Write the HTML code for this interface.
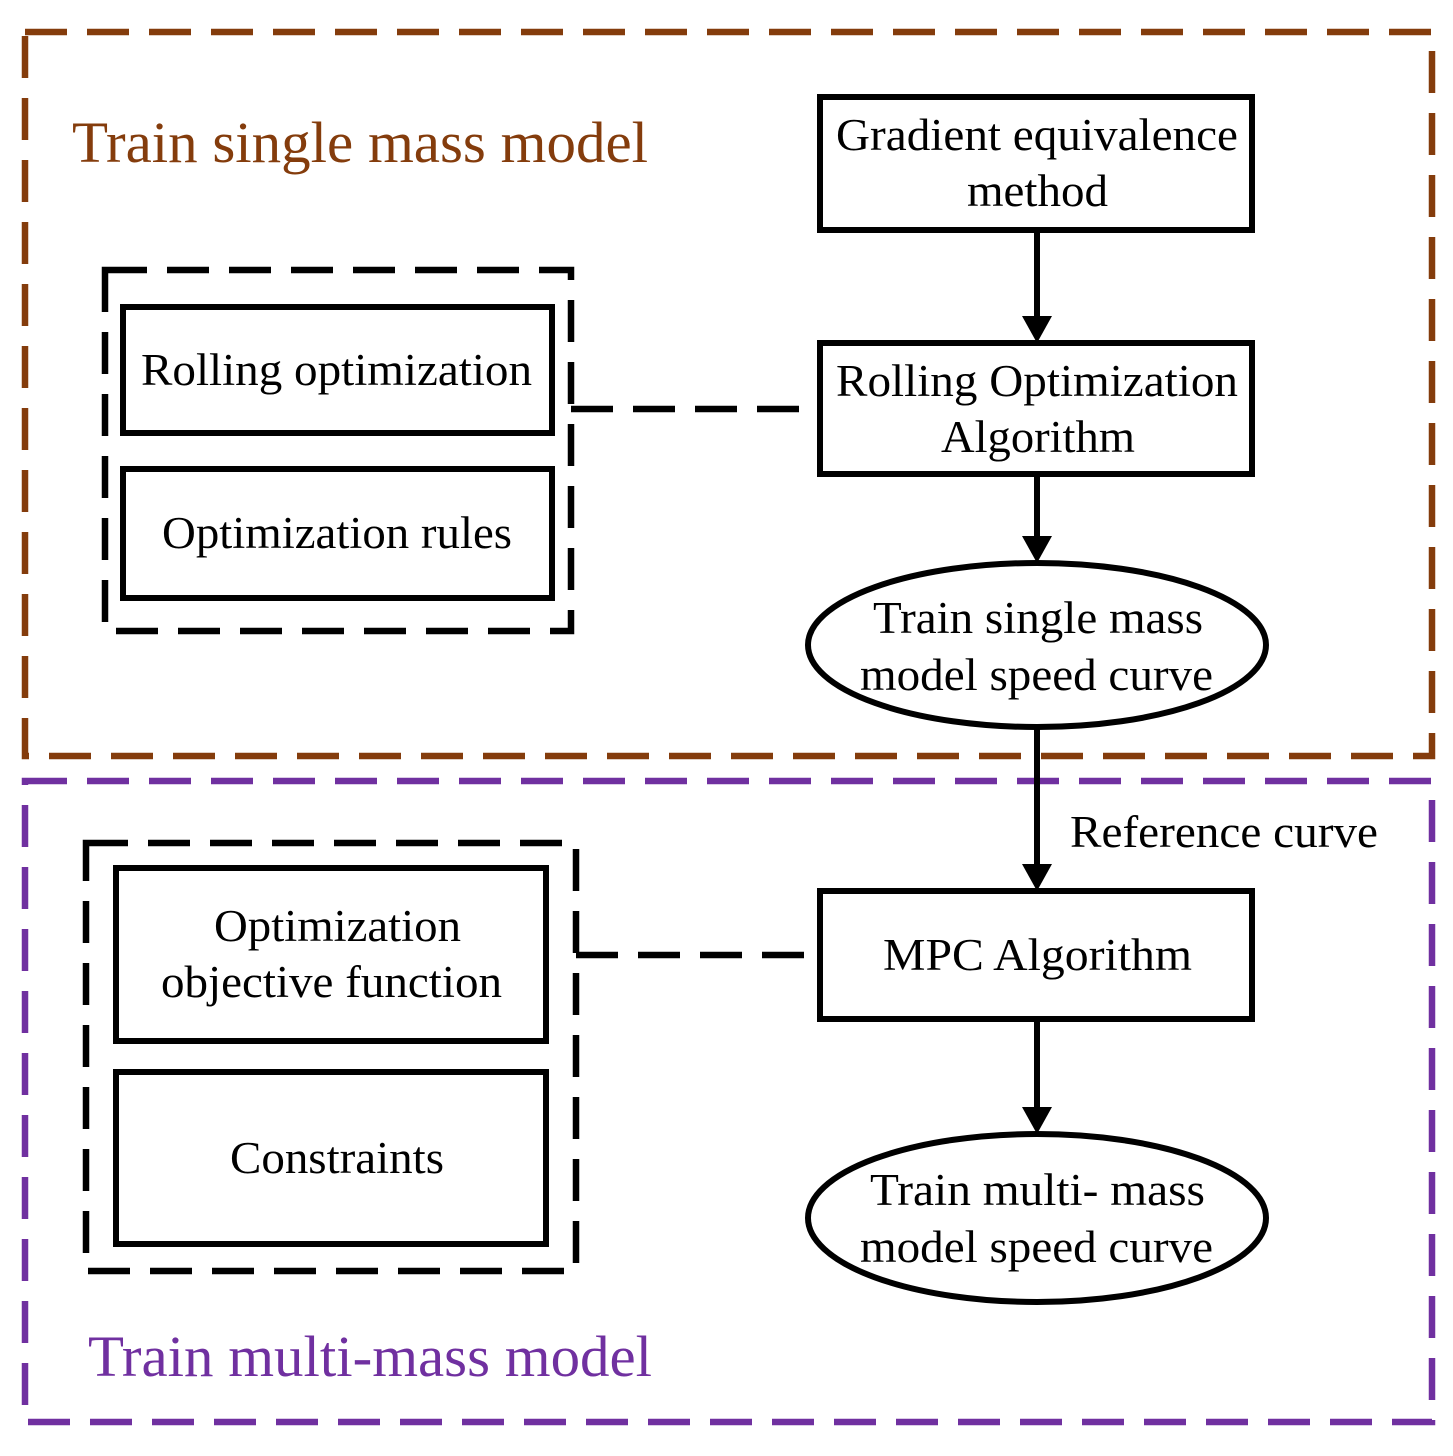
<!DOCTYPE html>
<html><head><style>html,body{margin:0;padding:0;background:#fff}svg{display:block}text{font-family:"Liberation Serif",serif}</style></head>
<body>
<svg width="1453" height="1456" viewBox="0 0 1453 1456" xmlns="http://www.w3.org/2000/svg">
<rect x="25" y="32" width="1407" height="724" fill="none" stroke="#843C0C" stroke-width="6.5" stroke-dasharray="42,20"/>
<rect x="25" y="781" width="1407" height="641" fill="none" stroke="#7030A0" stroke-width="6.5" stroke-dasharray="42,20"/>
<text x="72" y="162" font-size="58" fill="#843C0C" textLength="576" lengthAdjust="spacingAndGlyphs">Train single mass model</text>
<text x="88" y="1376" font-size="58" fill="#7030A0" textLength="564" lengthAdjust="spacingAndGlyphs">Train multi-mass model</text>
<g fill="none" stroke="#000" stroke-width="6.5" stroke-dasharray="42,20">
<rect x="105" y="270" width="466" height="361"/>
<rect x="86" y="843" width="490" height="428"/>
<line x1="571" y1="409" x2="820" y2="409"/>
<line x1="576" y1="955" x2="820" y2="955"/>
</g>
<g fill="none" stroke="#000" stroke-width="6">
<rect x="123" y="307" width="429" height="126"/>
<rect x="123" y="469" width="429" height="129"/>
<rect x="116" y="868" width="430" height="173"/>
<rect x="116" y="1072" width="430" height="172"/>
<rect x="820" y="97" width="432" height="133"/>
<rect x="820" y="343" width="432" height="131"/>
<rect x="820" y="891" width="432" height="128"/>
<ellipse cx="1037" cy="645" rx="229" ry="82"/>
<ellipse cx="1037" cy="1218" rx="229" ry="84"/>
<line x1="1037" y1="230" x2="1037" y2="318"/>
<line x1="1037" y1="474" x2="1037" y2="538"/>
<line x1="1037" y1="727" x2="1037" y2="866"/>
<line x1="1037" y1="1019" x2="1037" y2="1110"/>
</g>
<g fill="#000">
<polygon points="1022,316 1052,316 1037,343"/>
<polygon points="1022,536 1052,536 1037,563"/>
<polygon points="1022,864 1052,864 1037,891"/>
<polygon points="1022,1107 1052,1107 1037,1134"/>
</g>
<g font-size="45" fill="#000" lengthAdjust="spacingAndGlyphs">
<text x="141" y="385" textLength="391" lengthAdjust="spacingAndGlyphs">Rolling optimization</text>
<text x="162" y="548" textLength="350" lengthAdjust="spacingAndGlyphs">Optimization rules</text>
<text x="214" y="941" textLength="247" lengthAdjust="spacingAndGlyphs">Optimization</text>
<text x="161" y="997" textLength="341" lengthAdjust="spacingAndGlyphs">objective function</text>
<text x="230" y="1173" textLength="214" lengthAdjust="spacingAndGlyphs">Constraints</text>
<text x="836" y="150" textLength="402" lengthAdjust="spacingAndGlyphs">Gradient equivalence</text>
<text x="967" y="206" textLength="141" lengthAdjust="spacingAndGlyphs">method</text>
<text x="836" y="396" textLength="402" lengthAdjust="spacingAndGlyphs">Rolling Optimization</text>
<text x="941" y="452" textLength="194" lengthAdjust="spacingAndGlyphs">Algorithm</text>
<text x="873" y="633" textLength="330" lengthAdjust="spacingAndGlyphs">Train single mass</text>
<text x="860" y="690" textLength="353" lengthAdjust="spacingAndGlyphs">model speed curve</text>
<text x="883" y="970" textLength="309" lengthAdjust="spacingAndGlyphs">MPC Algorithm</text>
<text x="870" y="1205" textLength="335" lengthAdjust="spacingAndGlyphs">Train multi- mass</text>
<text x="860" y="1262" textLength="353" lengthAdjust="spacingAndGlyphs">model speed curve</text>
<text x="1070" y="847" textLength="308" lengthAdjust="spacingAndGlyphs">Reference curve</text>
</g>
</svg>
</body></html>
